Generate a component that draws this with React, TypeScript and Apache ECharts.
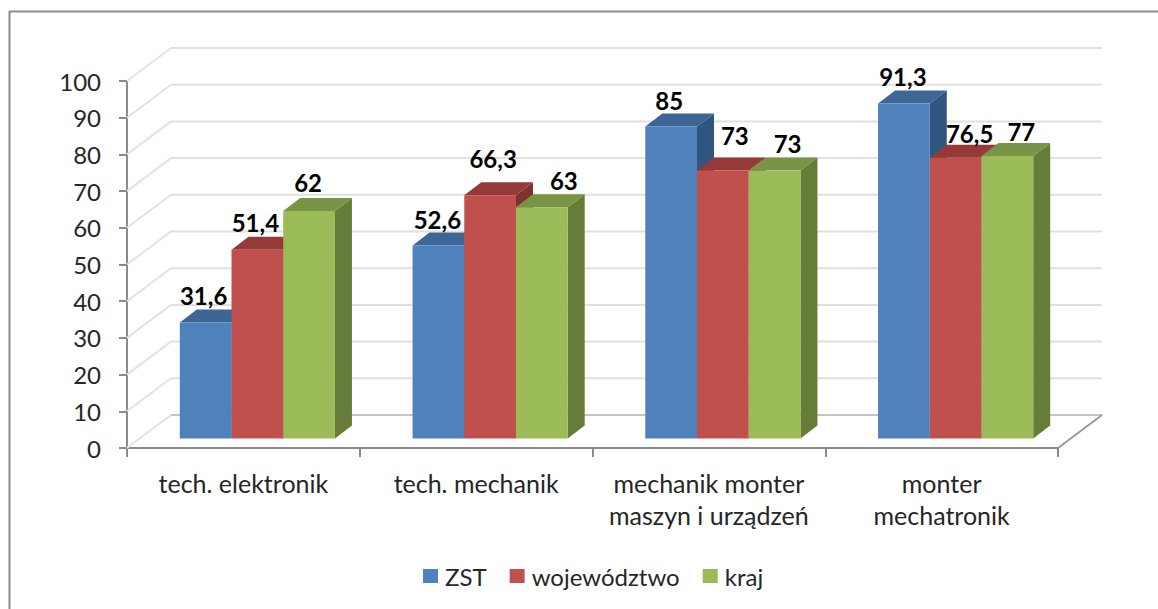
import React, { useEffect, useRef } from "react";
import * as echarts from "echarts";

const categories = ["tech. elektronik", "tech. mechanik", "mechanik monter\nmaszyn i urządzeń", "monter\nmechatronik"];
const zst = [31.6, 52.6, 85, 91.3];
const wojewodztwo = [51.4, 66.3, 73, 76.5];
const kraj = [62, 63, 73, 77];
const wallTicks = [0, 10, 20, 30, 40, 50, 60, 70, 80, 90, 100];

const FONT = "Lato";
const WALL = { dx: 44, dy: -33 };
const PLANE = { dx: 14, dy: -9.5 };
const BAR = { dx: 17, dy: -13, share: 0.2222 };

const palette = [
  { name: "ZST", values: zst, front: "#4F81BD", top: "#3D6695", side: "#30557F" },
  { name: "województwo", values: wojewodztwo, front: "#C0504D", top: "#953A38", side: "#7F3230" },
  { name: "kraj", values: kraj, front: "#9BBB59", top: "#7A9446", side: "#667C39" },
];
// Label nudges [dx, dy] relative to the bar's front-top centre, placed by hand in the original.
const labelNudge = [
  [[-2, -27], [-2, -27], [-1, -28]],
  [[-1, -26], [3, -37], [22, -27]],
  [[-2, -26], [12, -35], [13, -27]],
  [[-1, -27], [14, -24], [14, -24]],
];

function wallItem(_p: any, api: any) {
  const v = api.value(1);
  const c = api.coord([0, v]);
  const bw = api.size([1, 0])[0];
  const n = categories.length;
  const left = c[0] - bw / 2;
  const right = left + bw * n;
  const children: any[] = [
    {
      type: "line",
      shape: { x1: left, y1: c[1], x2: left + WALL.dx, y2: c[1] + WALL.dy },
      style: { stroke: "#e2e2e2", lineWidth: 2, fill: "none" },
    },
    {
      type: "line",
      shape: { x1: left + WALL.dx, y1: c[1] + WALL.dy, x2: right + WALL.dx, y2: c[1] + WALL.dy },
      style: { stroke: v === 0 ? "#c4c4c4" : "#e0e0e0", lineWidth: 2, fill: "none" },
    },
  ];
  if (v === 0) {
    children.push({
      type: "line",
      shape: { x1: right, y1: c[1], x2: right + WALL.dx, y2: c[1] + WALL.dy },
      style: { stroke: "#9a9a9a", lineWidth: 2, fill: "none" },
    });
  }
  return { type: "group", children };
}

function barRenderer(seriesIndex: number) {
  const s = palette[seriesIndex];
  return (_p: any, api: any) => {
    const idx = api.value(0);
    const val = api.value(1);
    const top = api.coord([idx, val]);
    const base = api.coord([idx, 0]);
    const bw = api.size([1, 0])[0];
    const w = bw * BAR.share;
    const x1 = top[0] + PLANE.dx + (seriesIndex - 1.5) * w;
    const x2 = x1 + w;
    const yt = top[1] + PLANE.dy;
    const yb = base[1] + PLANE.dy;
    const { dx, dy } = BAR;
    const nudge = labelNudge[idx][seriesIndex];
    return {
      type: "group",
      children: [
        {
          type: "polygon",
          shape: { points: [[x2, yt], [x2 + dx, yt + dy], [x2 + dx, yb + dy], [x2, yb]] },
          style: { fill: s.side },
        },
        {
          type: "polygon",
          shape: { points: [[x1, yt], [x1 + dx, yt + dy], [x2 + dx, yt + dy], [x2, yt]] },
          style: { fill: s.top },
        },
        {
          type: "rect",
          shape: { x: x1, y: yt, width: w, height: yb - yt },
          style: { fill: s.front },
        },
        {
          type: "text",
          z2: 100,
          style: {
            text: String(val).replace(".", ","),
            x: (x1 + x2) / 2 + nudge[0],
            y: yt + nudge[1],
            align: "center",
            verticalAlign: "middle",
            fill: "#000000",
            font: `bold 24px ${FONT}`,
          },
        },
      ],
    };
  };
}

export default function App() {
  const ref = useRef<HTMLDivElement>(null);
  useEffect(() => {
    const chart = echarts.init(ref.current!, null, { renderer: "svg" });
    chart.setOption({
      animation: false,
      backgroundColor: "#ffffff",
      textStyle: { fontFamily: FONT },
      grid: { left: 127, top: 81, width: 931, height: 367 },
      legend: {
        left: 423,
        top: 564,
        padding: 0,
        itemWidth: 15,
        itemHeight: 14,
        itemGap: 23,
        icon: "rect",
        data: palette.map((s) => ({ name: s.name, itemStyle: { color: s.front } })),
        textStyle: { fontFamily: FONT, fontSize: 24, color: "#262626", padding: [0, 0, 0, 2] },
      },
      xAxis: {
        type: "category",
        data: categories,
        axisLine: { lineStyle: { color: "#8a8a8a", width: 2 } },
        axisTick: { show: true, length: 9, lineStyle: { color: "#8a8a8a", width: 2 } },
        axisLabel: { color: "#262626", fontFamily: FONT, fontSize: 25, lineHeight: 32, margin: 19, interval: 0 },
        splitLine: { show: false },
      },
      yAxis: {
        type: "value",
        min: 0,
        max: 100,
        interval: 10,
        axisLine: { show: true, lineStyle: { color: "#8a8a8a", width: 2 } },
        axisTick: { show: true, length: 8, lineStyle: { color: "#8a8a8a", width: 2 } },
        axisLabel: { color: "#262626", fontFamily: FONT, fontSize: 24, margin: 26, padding: [3, 0, 0, 0] },
        splitLine: { show: false },
      },
      graphic: [
        { type: "line", shape: { x1: 9.5, y1: 11, x2: 9.5, y2: 609 }, style: { stroke: "#8c8c8c", lineWidth: 2 } },
        { type: "line", shape: { x1: 9, y1: 11.5, x2: 1158, y2: 11.5 }, style: { stroke: "#8c8c8c", lineWidth: 2 } },
      ],
      series: [
        {
          type: "custom",
          name: "walls",
          silent: true,
          clip: false,
          data: wallTicks.map((v) => [0, v]),
          renderItem: wallItem,
          z: 1,
        },
        ...palette.map((s, i) => ({
          type: "custom",
          name: s.name,
          clip: false,
          itemStyle: { color: s.front },
          data: s.values.map((v, k) => [k, v]),
          renderItem: barRenderer(i),
          encode: { x: 0, y: 1 },
          z: 3,
        })),
      ],
    });
    return () => chart.dispose();
  }, []);
  return <div ref={ref} style={{ position: "absolute", left: 0, top: 0, width: 1158, height: 609 }} />;
}
